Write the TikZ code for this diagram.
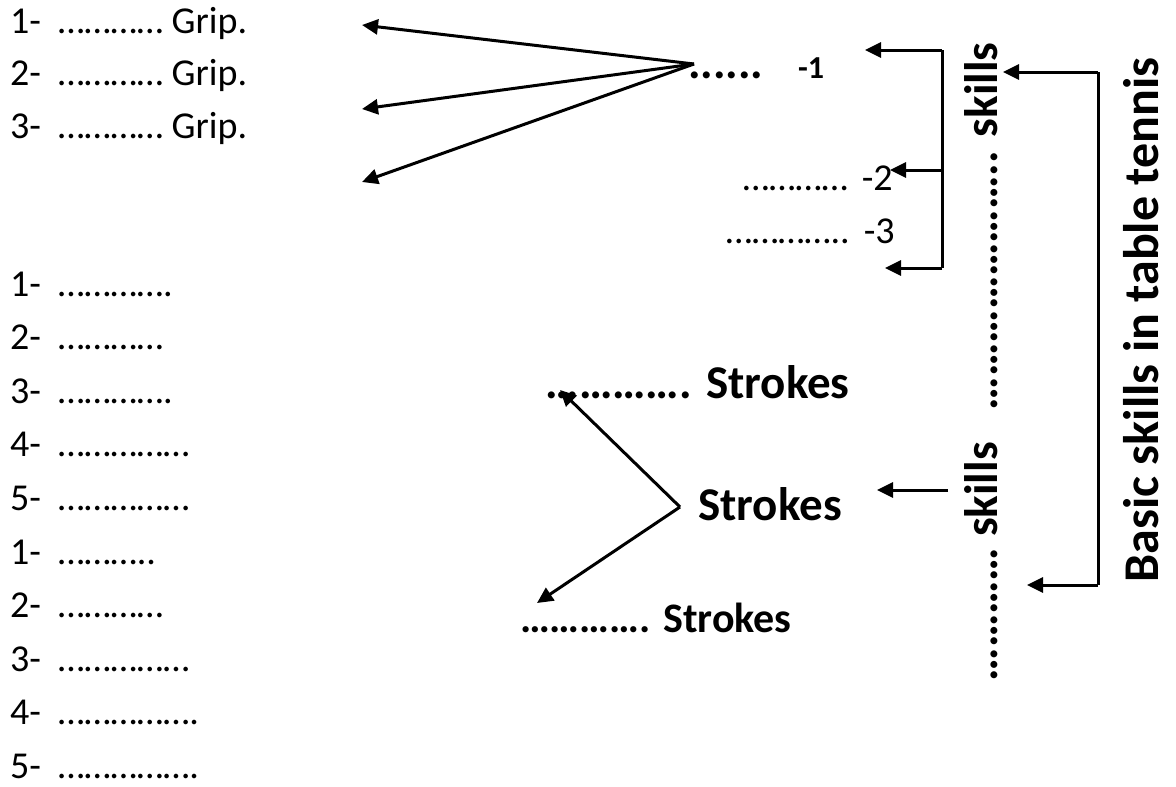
\documentclass[tikz,border=0pt]{standalone}
\usepackage{fontspec}
\setmainfont{Carlito}
\usetikzlibrary{arrows.meta}
\newcommand{\numitem}[2]{\makebox[48pt][l]{#1-}#2}
\ExplSyntaxOn
\newcommand{\edots}[1]{\prg_replicate:nn{#1}{…}}
\ExplSyntaxOff

\begin{document}
\begin{tikzpicture}[x=1pt,y=-1pt,
    item/.style={anchor=base west,inner sep=0pt,font=\fontsize{38}{45}\selectfont},
    bigtext/.style={inner sep=0pt,font=\fontsize{47}{56}\selectfont\bfseries},
    arr/.style={line width=3pt,-{Triangle[length=16pt,width=15pt]}},
    bar/.style={line width=3pt}]
    \useasboundingbox (0,0) rectangle (1176,787);

    \node[item] (g1) at (10,33) {\numitem{1}{\edots{4} Grip.}};
    \node[item] (g2) at (10,85.5) {\numitem{2}{\edots{4} Grip.}};
    \node[item] (g3) at (10,138) {\numitem{3}{\edots{4} Grip.}};
    \foreach \n/\k/\x [count=\i from 0] in {1/4/., 2/4/{}, 3/4/., 4/5/{}, 5/5/{},
        1/3/.., 2/4/{}, 3/5/{}, 4/5/., 5/5/.}
        \node[item] (s\i) at (10,296+53.6*\i) {\numitem{\n}{\edots{\k}\x}};

    \node[bigtext,anchor=base west] (d1) at (688,78) {......};
    \node[inner sep=0pt,anchor=base west,font=\fontsize{32}{38}\selectfont\bfseries] (n1) at (798,78) {-1};
    \node[item,anchor=base east] (d2) at (893,190) {\edots{4}\hspace{14pt}-2};
    \node[item,anchor=base east] (d3) at (895,243) {\edots{4}..\hspace{14pt}-3};

    \node[bigtext,anchor=base east] (st1) at (850,398) {\edots{4}. Strokes};
    \node[bigtext,anchor=base west] (st2) at (698,520) {Strokes};
    \node[bigtext,anchor=base east,font=\fontsize{42}{50}\selectfont\bfseries] (st3) at (792,632) {\edots{4}. Strokes};

    \node[bigtext,rotate=90,anchor=base east] (sk1) at (997,42) {\edots{7}.. skills};
    \node[bigtext,rotate=90,anchor=base east] (sk2) at (997,442) {\edots{4} skills};
    \node[bigtext,rotate=90,anchor=base,font=\fontsize{50}{60}\selectfont\bfseries] (title) at (1158,320) {Basic skills in table tennis};

    \coordinate (fan) at (694,64);
    \coordinate (a1) at (362,25);
    \coordinate (a2) at (362,109);
    \coordinate (a3) at (362,182);
    \draw[arr] (fan) -- (a1);
    \draw[arr] (fan) -- (a2);
    \draw[arr] (fan) -- (a3);

    \coordinate (sb1) at (942,50);
    \coordinate (sb2) at (942,170);
    \coordinate (sb3) at (942,268);
    \draw[bar] (sb1) -- (sb3);
    \draw[arr] (sb1) -- (865,50);
    \draw[arr] (sb2) -- (890,170);
    \draw[arr] (sb3) -- (885,268);

    \coordinate (bb1) at (1098,72);
    \coordinate (bb2) at (1098,585);
    \draw[bar] (bb1) -- (bb2);
    \draw[arr] (bb1) -- (1003,72);
    \draw[arr] (bb2) -- (1027,585);

    \coordinate (sv) at (680,507);
    \coordinate (sa1) at (560,390);
    \coordinate (sa2) at (537,603);
    \draw[arr] (sv) -- (sa1);
    \draw[arr] (sv) -- (sa2);
    \coordinate (sr) at (948,490);
    \draw[arr] (sr) -- (877,490);
\end{tikzpicture}
\end{document}
